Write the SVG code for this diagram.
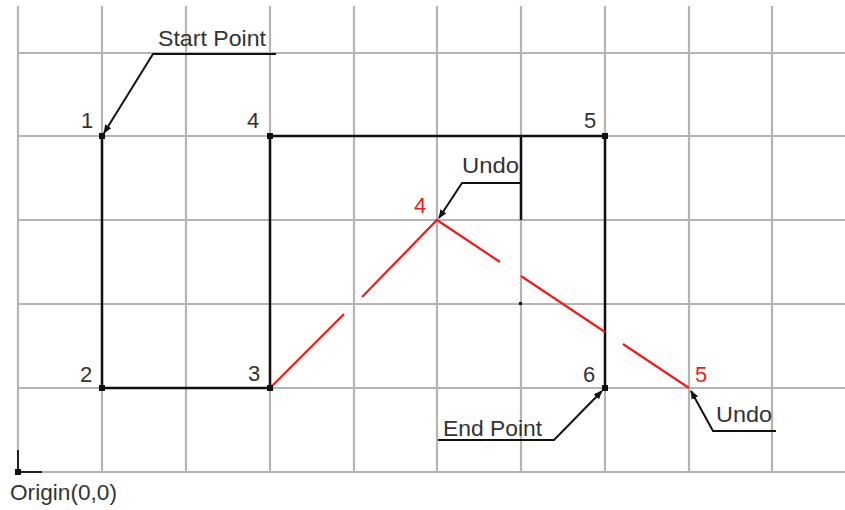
<svg xmlns="http://www.w3.org/2000/svg" width="845" height="510" viewBox="0 0 845 510">
<defs>
<style>
.grid line{stroke:#b4b4b4;stroke-width:2.2}
.edge{stroke:#111;stroke-width:2.5;fill:none}
.red{stroke:#f01c1c;stroke-width:2.2;fill:none}
.lead{stroke:#111;stroke-width:2;fill:none}
text{font-family:"Liberation Sans",Arial,sans-serif;font-size:22px;fill:#333}
.rt{fill:#f01c1c}
.dot{fill:#111}
</style>
<marker id="arr" viewBox="0 0 10 10" refX="9" refY="5" markerWidth="9" markerHeight="9" markerUnits="userSpaceOnUse" orient="auto">
<path d="M0,1 L10,5 L0,9 z" fill="#111"/>
</marker>
</defs>
<rect width="845" height="510" fill="#fff"/>
<g class="grid">
<line x1="18" y1="6" x2="18" y2="473"/>
<line x1="102" y1="6" x2="102" y2="473"/>
<line x1="186" y1="6" x2="186" y2="473"/>
<line x1="270" y1="6" x2="270" y2="473"/>
<line x1="354" y1="6" x2="354" y2="473"/>
<line x1="437" y1="6" x2="437" y2="473"/>
<line x1="521" y1="6" x2="521" y2="473"/>
<line x1="605" y1="6" x2="605" y2="473"/>
<line x1="689" y1="6" x2="689" y2="473"/>
<line x1="772" y1="6" x2="772" y2="473"/>
<line x1="18" y1="53" x2="845" y2="53"/>
<line x1="18" y1="136" x2="845" y2="136"/>
<line x1="18" y1="220" x2="845" y2="220"/>
<line x1="18" y1="304" x2="845" y2="304"/>
<line x1="18" y1="388" x2="845" y2="388"/>
<line x1="18" y1="472" x2="845" y2="472"/>
</g>
<g id="connectors">
<path class="edge" d="M102,136 V388 H270 V136 H605 V388"/>
<path class="edge" d="M521,136 V220"/>
<path class="red" d="M270,388 L344,314 M362,297 L437,220 L500,262 M521,276 L605,332 M623,344 L689,388"/>
<path class="lead" d="M276,54 H153 L104,133" marker-end="url(#arr)"/>
<path class="lead" d="M521,183 H462 L439,218" marker-end="url(#arr)"/>
<path class="lead" d="M438,440 H554 L602,391" marker-end="url(#arr)"/>
<path class="lead" d="M776,431 H713 L691,391" marker-end="url(#arr)"/>
<path d="M18,472 V450 M18,472 H42" stroke="#222" stroke-width="2" fill="none"/>
<rect class="dot" x="15" y="469" width="6" height="6"/>
</g>
<g id="p1"><rect class="dot" x="99" y="133" width="6" height="6"/><text x="81" y="128">1</text></g>
<g id="p2"><rect class="dot" x="99" y="385" width="6" height="6"/><text x="80" y="382">2</text></g>
<g id="p3"><rect class="dot" x="267" y="385" width="6" height="6"/><text x="248" y="381">3</text></g>
<g id="p4"><rect class="dot" x="267" y="133" width="6" height="6"/><text x="247" y="128">4</text></g>
<g id="p5"><rect class="dot" x="602" y="133" width="6" height="6"/><text x="584" y="128">5</text></g>
<g id="p6"><rect class="dot" x="602" y="385" width="6" height="6"/><text x="583" y="382">6</text></g>
<g id="r4"><text class="rt" x="414" y="213">4</text></g>
<g id="r5"><text class="rt" x="695" y="382">5</text></g>
<g id="mid"><rect class="dot" x="519" y="302" width="3" height="3"/></g>
<g id="start"><text x="158" y="46" textLength="108" lengthAdjust="spacingAndGlyphs">Start Point</text></g>
<g id="undo1"><text x="462" y="173" textLength="57" lengthAdjust="spacingAndGlyphs">Undo</text></g>
<g id="end"><text x="443" y="436" textLength="99" lengthAdjust="spacingAndGlyphs">End Point</text></g>
<g id="undo2"><text x="716" y="422" textLength="56" lengthAdjust="spacingAndGlyphs">Undo</text></g>
<g id="origin"><text x="10" y="500" textLength="107" lengthAdjust="spacingAndGlyphs">Origin(0,0)</text></g>
</svg>
